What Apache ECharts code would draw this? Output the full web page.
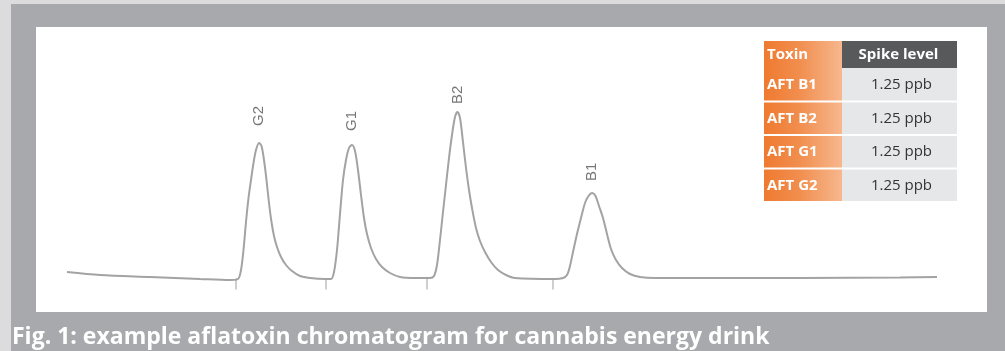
<!DOCTYPE html>
<html>
<head>
<meta charset="utf-8">
<script src="https://cdn.jsdelivr.net/npm/echarts@6.0.0/dist/echarts.min.js"></script>
<style>
  html, body { margin: 0; padding: 0; background: #dcdcde; }
  #chart { width: 1005px; height: 351px; }
</style>
</head>
<body>
<div id="chart"></div>
<script>
// ---- data (retention time in minutes, detector signal in arbitrary units) ----
const times = [
  0.54, 1.2, 2.2, 3.2, 3.8, 3.96,
  4.02, 4.07, 4.12, 4.17, 4.22, 4.27, 4.32, 4.38, 4.43, 4.48, 4.53, 4.58, 4.63, 4.68, 4.74, 4.82, 4.92, 5.04, 5.2, 5.4, 5.7,
  5.82, 5.88, 5.94, 6.0, 6.06, 6.12, 6.18, 6.24, 6.3, 6.36, 6.42, 6.48, 6.54, 6.62, 6.72, 6.84, 7.0, 7.2, 7.5, 7.8,
  7.88, 7.94, 8.0, 8.06, 8.12, 8.18, 8.24, 8.3, 8.35, 8.4, 8.46, 8.52, 8.58, 8.64, 8.72, 8.8, 8.9, 9.02, 9.16, 9.32, 9.5, 10.3,
  10.46, 10.54, 10.6, 10.66, 10.74, 10.82, 10.9, 10.97, 11.04, 11.11, 11.18, 11.26, 11.34, 11.42, 11.52, 11.64, 11.8, 12.0, 12.3,
  13.2, 15.2, 17.2, 17.94
];
const signal = [
  6, 3, 1, -1, -2, -1,
  8, 28, 56, 80, 98, 115, 128, 135, 132, 118, 98, 75, 56, 42, 31, 21, 13, 7, 2, 0, -1,
  -1, 6, 28, 64, 98, 118, 130, 133, 127, 108, 83, 60, 44, 30, 19, 11, 5, 1, 0, 0,
  2, 13, 38, 66, 93, 120, 143, 161, 166, 160, 136, 110, 88, 70, 50, 37, 26, 16, 8, 3, 0, -1,
  0, 3, 12, 26, 44, 60, 75, 82, 85, 82, 72, 60, 44, 29, 18, 10, 4, 1, 0,
  0, 0, 0.5, 1
];
const peakNames = ['G2', 'G1', 'B2', 'B1'];
const peakTimes = [4.38, 6.24, 8.35, 11.04];
const peakHeights = [135, 133, 166, 85];
const eventTimes = [3.92, 5.72, 7.74, 10.26];

const tableHeaders = ['Toxin', 'Spike level'];
const toxins = ['AFT B1', 'AFT B2', 'AFT G1', 'AFT G2'];
const spikeLevels = ['1.25 ppb', '1.25 ppb', '1.25 ppb', '1.25 ppb'];
const caption = 'Fig. 1: example aflatoxin chromatogram for cannabis energy drink';

// ---- styling / layout ----
const FONT = '"Open Sans", Lato, sans-serif';
const labelDistances = [17, 14, 8, 12];
const tbl = { x: 764, y: 41, col1: 78, col2: 115, headH: 27, pitch: 33.5, rowH: 31.5 };

const orangeGrad = new echarts.graphic.LinearGradient(0, 0, 1, 0, [
  { offset: 0, color: '#ef7a30' },
  { offset: 0.45, color: '#f18e4e' },
  { offset: 1, color: '#f7b78e' }
]);

const graphics = [
  { type: 'rect', z: -10, shape: { x: 0, y: 0, width: 1005, height: 351 }, style: { fill: '#dcdcde' } },
  { type: 'rect', z: -9, shape: { x: 11, y: 4, width: 994, height: 347 }, style: { fill: '#a8a9ac' } },
  { type: 'rect', z: -8, shape: { x: 36, y: 27, width: 951, height: 285 }, style: { fill: '#ffffff' } },
  { type: 'text', z: 10, x: 12, y: 337, style: { text: caption, fill: '#ffffff', font: 'bold 23px ' + FONT, verticalAlign: 'middle' } }
];

// table header
graphics.push({ type: 'rect', z: 5, shape: { x: tbl.x, y: tbl.y, width: tbl.col1, height: tbl.headH }, style: { fill: orangeGrad } });
graphics.push({ type: 'rect', z: 5, shape: { x: tbl.x + tbl.col1, y: tbl.y, width: tbl.col2, height: tbl.headH }, style: { fill: '#58595b' } });
graphics.push({ type: 'text', z: 6, x: tbl.x + 3, y: tbl.y + tbl.headH / 2, style: { text: tableHeaders[0], fill: '#fff', font: 'bold 15px ' + FONT, verticalAlign: 'middle' } });
graphics.push({ type: 'text', z: 6, x: tbl.x + tbl.col1 + tbl.col2 / 2 - 1, y: tbl.y + tbl.headH / 2, style: { text: tableHeaders[1], fill: '#fff', font: 'bold 15px ' + FONT, align: 'center', verticalAlign: 'middle' } });
toxins.forEach((tx, i) => {
  const top = tbl.y + tbl.headH + i * tbl.pitch;
  const h = i === 0 ? tbl.rowH + 1 : tbl.rowH;
  const yTop = i === 0 ? top : top + 1;
  graphics.push({ type: 'rect', z: 5, shape: { x: tbl.x, y: yTop, width: tbl.col1, height: h }, style: { fill: orangeGrad } });
  graphics.push({ type: 'rect', z: 5, shape: { x: tbl.x + tbl.col1, y: yTop, width: tbl.col2, height: h }, style: { fill: '#e6e7e8' } });
  graphics.push({ type: 'text', z: 6, x: tbl.x + 3, y: yTop + h / 2, style: { text: tx, fill: '#fff', font: 'bold 15px ' + FONT, verticalAlign: 'middle' } });
  graphics.push({ type: 'text', z: 6, x: tbl.x + tbl.col1 + tbl.col2 / 2 + 2, y: yTop + h / 2, style: { text: spikeLevels[i], fill: '#333', font: '15px ' + FONT, align: 'center', verticalAlign: 'middle' } });
});

const chart = echarts.init(document.getElementById('chart'), null, { renderer: 'canvas' });
chart.setOption({
  animation: false,
  backgroundColor: 'transparent',
  grid: { left: 40, right: 65, top: 78, bottom: 63 },
  xAxis: { type: 'value', min: 0, max: 18, show: false },
  yAxis: { type: 'value', min: -10, max: 200, show: false },
  graphic: graphics,
  series: [
    {
      type: 'line',
      data: times.map((t, i) => [t, signal[i]]),
      showSymbol: false,
      smooth: 0.3,
      lineStyle: { color: '#a3a3a3', width: 2 },
      z: 3
    },
    {
      type: 'scatter',
      data: eventTimes.map(t => [t, -6]),
      symbol: 'rect',
      symbolSize: [1.5, 11],
      itemStyle: { color: '#b0b0b0' },
      z: 2
    },
    {
      type: 'scatter',
      data: peakTimes.map((t, i) => ({ value: [t, peakHeights[i]], label: { distance: labelDistances[i] } })),
      symbolSize: 0,
      z: 4,
      label: {
        show: true,
        position: 'top',
        rotate: 90,
        align: 'left',
        verticalAlign: 'middle',
        fontFamily: '"Liberation Sans", Arial, sans-serif',
        fontSize: 15,
        color: '#555',
        formatter: p => peakNames[p.dataIndex]
      }
    }
  ]
});
</script>
</body>
</html>
